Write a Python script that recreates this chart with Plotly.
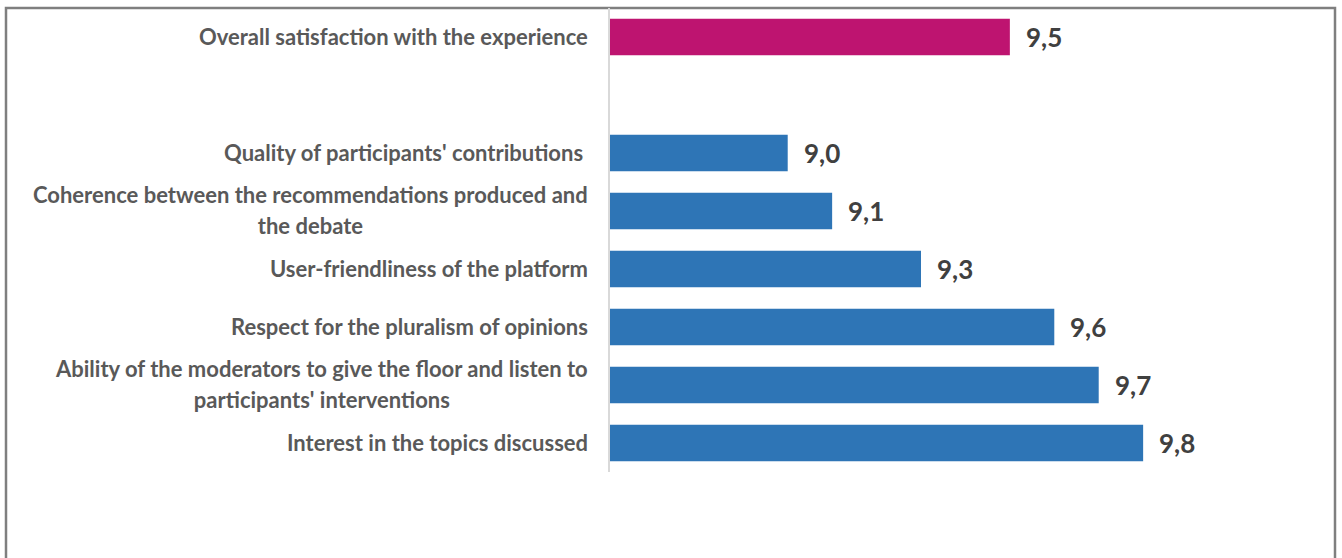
import plotly.graph_objects as go

categories = [
    "Overall satisfaction with the experience",
    " ",
    "Quality of participants' contributions ",
    "Coherence between the recommendations produced and<br>the debate",
    "User-friendliness of the platform",
    "Respect for the pluralism of opinions",
    "Ability of the moderators to give the floor and listen to<br>participants' interventions",
    "Interest in the topics discussed",
]
values = [9.5, None, 9.0, 9.1, 9.3, 9.6, 9.7, 9.8]

HIGHLIGHT = "#BE1470"
BLUE = "#2E75B6"
colors = [HIGHLIGHT if i == 0 else BLUE for i in range(len(categories))]

LABEL_FONT = dict(family="Lato", size=22, color="#595959", weight="bold")
VALUE_FONT = dict(family="Lato", size=26, color="#404040", weight="bold")
XMIN, XMAX = 8.6, 10.0

fig = go.Figure(
    go.Bar(
        y=categories,
        x=values,
        orientation="h",
        marker=dict(color=colors, line=dict(width=0)),
        width=0.63,
        hoverinfo="skip",
    )
)

annotations = []
HIDE = "<span style='color:rgba(0,0,0,0)'>{}</span>"
for cat, v in zip(categories, values):
    if v is None:
        continue
    lines = cat.split("<br>")
    if len(lines) == 1:
        annotations.append(dict(x=XMIN, y=cat, xref="x", yref="y", text=cat,
                                xanchor="right", xshift=-20, yshift=1,
                                showarrow=False, font=LABEL_FONT, align="center"))
    else:
        l1, l2 = lines
        annotations.append(dict(x=XMIN, y=cat, xref="x", yref="y",
                                text=l1 + "<br>" + HIDE.format(l2),
                                xanchor="right", xshift=-20, yshift=2,
                                showarrow=False, font=LABEL_FONT, align="center"))
        annotations.append(dict(x=XMIN, y=cat, xref="x", yref="y",
                                text=HIDE.format(l1) + "<br>" + l2,
                                xanchor="right", xshift=-20, yshift=0,
                                showarrow=False, font=LABEL_FONT, align="center"))
    annotations.append(dict(x=v, y=cat, xref="x", yref="y",
                            text=f"{v:.1f}".replace(".", ","),
                            xanchor="left", xshift=14, showarrow=False,
                            font=VALUE_FONT))

fig.update_layout(
    width=1342,
    height=558,
    margin=dict(l=610, r=110, t=8, b=86),
    paper_bgcolor="white",
    plot_bgcolor="white",
    showlegend=False,
    xaxis=dict(range=[XMIN, XMAX], visible=False, fixedrange=True),
    yaxis=dict(
        type="category",
        categoryorder="array",
        categoryarray=categories,
        autorange="reversed",
        showticklabels=False,
        ticks="",
        showgrid=False,
        showline=True,
        linecolor="#D9D9D9",
        linewidth=1.5,
        zeroline=False,
        fixedrange=True,
    ),
    annotations=annotations,
    shapes=[
        dict(type="rect", xref="paper", yref="paper",
             x0=(6 - 610) / 622, x1=(1335 - 610) / 622,
             y0=(472 - 575) / 464, y1=1.0,
             line=dict(color="#7F7F7F", width=2.5), layer="below"),
    ],
)

fig.write_html("out.html", config={"displayModeBar": False},
               post_script="document.body.style.margin='0';")
